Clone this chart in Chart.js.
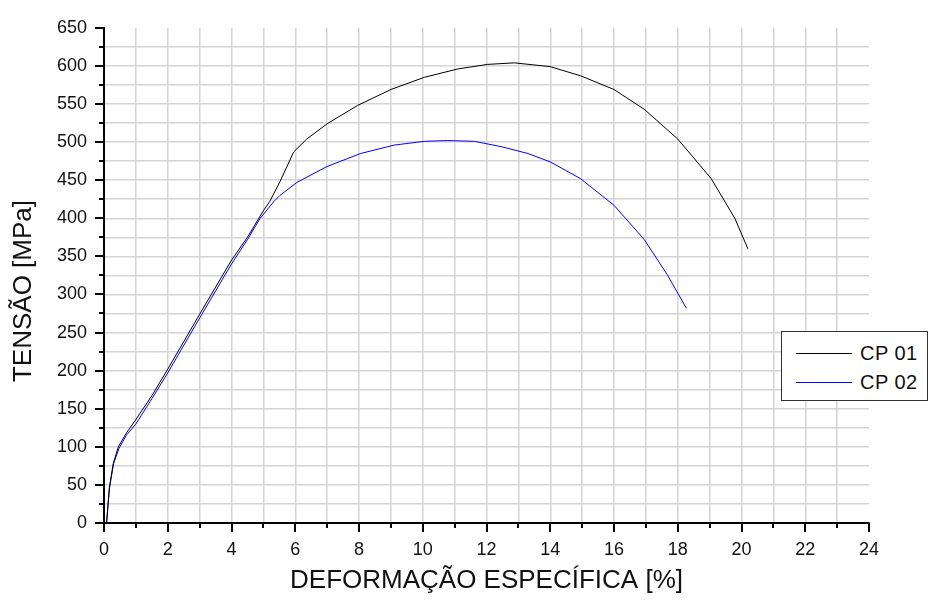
<!DOCTYPE html>
<html>
<head>
<meta charset="utf-8">
<script src="https://cdn.jsdelivr.net/npm/chart.js@4.4.1/dist/chart.umd.min.js"></script>
<style>
  body { margin: 0; background: #fff; font-family: Arial, "Liberation Sans", sans-serif; }
  #wrap { position: relative; width: 929px; height: 601px; }
  #legend {
    position: absolute; left: 781px; top: 331px; width: 145px; height: 68px;
    border: 1px solid #333; background: #fff;
  }
  .item { position: absolute; left: 14px; height: 20px; display: flex; align-items: center; }
  .item span.swatch { display: inline-block; width: 56px; height: 0; border-top: 1px solid; margin-right: 8px; }
  .item span.txt { font-size: 20px; color: #111; letter-spacing: 0.5px; }
</style>
</head>
<body>
<div id="wrap">
  <canvas id="grafico" width="929" height="601"></canvas>
  <div id="legend"></div>
</div>
<script>
// CP 01 - deformação [%] e tensão [MPa]
const cp01Strain = [0.08, 0.17, 0.29, 0.45, 0.7, 0.97, 1.5, 2.0, 3.0, 4.0, 4.5, 5.0, 5.2, 5.52, 5.95, 6.36, 7.0, 7.95, 9.0, 10.05, 11.1, 12.04, 12.87, 14.0, 14.95, 16.0, 16.95, 18.0, 19.05, 19.79, 20.2];
const cp01Stress = [0, 47, 78, 100, 118, 134, 167, 202, 274, 345, 375, 410, 422, 448, 487, 504, 524, 548, 569, 585, 596, 602, 604, 599, 587, 569, 543, 504, 452, 400, 360];

// CP 02
const cp02Strain = [0.08, 0.17, 0.3, 0.47, 0.7, 1.0, 1.5, 2.0, 3.0, 4.0, 4.5, 4.9, 5.33, 5.52, 6.05, 7.0, 8.05, 9.1, 10.05, 10.78, 11.62, 12.46, 13.3, 14.0, 14.95, 16.0, 16.95, 17.67, 18.27];
const cp02Stress = [0, 45, 78, 98, 115, 130, 163, 197, 269, 340, 372, 400, 422, 430, 447, 468, 485, 496, 501, 502, 501, 494, 485, 474, 452, 417, 372, 326, 282];

const seriesLabels = ["CP 01", "CP 02"];
const seriesColors = ["#000000", "#0000ff"];

const xMax = 24;
const yMax = 650;

const FONT = 'Arial, "Liberation Sans", sans-serif';

function toPoints(xs, ys) {
    return xs.map((v, i) => ({ x: v, y: ys[i] }));
}

function gridColor(max) {
    return c => (c.tick && (c.tick.value === 0 || c.tick.value === max)) ? "rgba(0,0,0,0)" : "#d4d4d4";
}

// marcas de escala (maiores e menores) e título do eixo Y
const extras = {
    id: "extras",
    afterDraw(chart) {
        const { ctx, chartArea, scales: { x, y } } = chart;
        ctx.save();
        ctx.strokeStyle = "#000";
        ctx.lineWidth = 2;
        ctx.beginPath();
        x.ticks.forEach(t => {
            const px = Math.round(x.getPixelForValue(t.value));
            const len = t.value % 2 === 0 ? 9 : 5;
            ctx.moveTo(px, chartArea.bottom);
            ctx.lineTo(px, chartArea.bottom + len);
        });
        y.ticks.forEach(t => {
            const py = Math.round(y.getPixelForValue(t.value));
            const len = t.value % 50 === 0 ? 9 : 5;
            ctx.moveTo(chartArea.left, py);
            ctx.lineTo(chartArea.left - len, py);
        });
        ctx.stroke();

        ctx.translate(24, 291);
        ctx.rotate(-Math.PI / 2);
        ctx.fillStyle = "#111";
        ctx.font = "26px " + FONT;
        ctx.textAlign = "center";
        ctx.textBaseline = "middle";
        ctx.fillText("TENSÃO [MPa]", 0, 0);
        ctx.restore();
    }
};

const chart = new Chart(document.getElementById("grafico"), {
    type: "scatter",
    data: {
        datasets: [
            { label: seriesLabels[0], data: toPoints(cp01Strain, cp01Stress) },
            { label: seriesLabels[1], data: toPoints(cp02Strain, cp02Stress) }
        ].map((d, i) => Object.assign(d, {
            showLine: true,
            borderColor: seriesColors[i],
            backgroundColor: seriesColors[i],
            borderWidth: 1,
            pointRadius: 0,
            tension: 0
        }))
    },
    options: {
        responsive: false,
        animation: false,
        layout: { padding: { left: 0, top: 26, right: 60, bottom: 0 } },
        plugins: { legend: { display: false }, tooltip: { enabled: false } },
        scales: {
            x: {
                type: "linear",
                min: 0, max: xMax,
                afterFit: s => { s.height = 78; },
                border: { color: "#000", width: 2 },
                grid: { color: gridColor(xMax), lineWidth: 1.5, drawTicks: false },
                ticks: {
                    stepSize: 1, autoSkip: false, maxRotation: 0, padding: 16,
                    color: "#111", font: { family: FONT, size: 18 },
                    callback: v => v % 2 === 0 ? v : ""
                },
                title: {
                    display: true, text: "DEFORMAÇÃO ESPECÍFICA [%]", color: "#111",
                    font: { family: FONT, size: 26 }, padding: { top: 0, bottom: 5 }
                }
            },
            y: {
                type: "linear",
                min: 0, max: yMax,
                afterFit: s => { s.width = 104; },
                border: { color: "#000", width: 2 },
                grid: { color: gridColor(yMax), lineWidth: 1.5, drawTicks: false },
                ticks: {
                    stepSize: 25, autoSkip: false, padding: 17,
                    color: "#111", font: { family: FONT, size: 18 },
                    callback: v => v % 50 === 0 ? v : ""
                }
            }
        }
    },
    plugins: [extras]
});

// legenda
const legend = document.getElementById("legend");
legend.innerHTML = chart.data.datasets.map((d, i) => `
    <div class="item" style="top:${11 + i * 29}px">
        <span class="swatch" style="border-color:${d.borderColor}"></span>
        <span class="txt">${d.label}</span>
    </div>`).join("");
</script>
</body>
</html>
